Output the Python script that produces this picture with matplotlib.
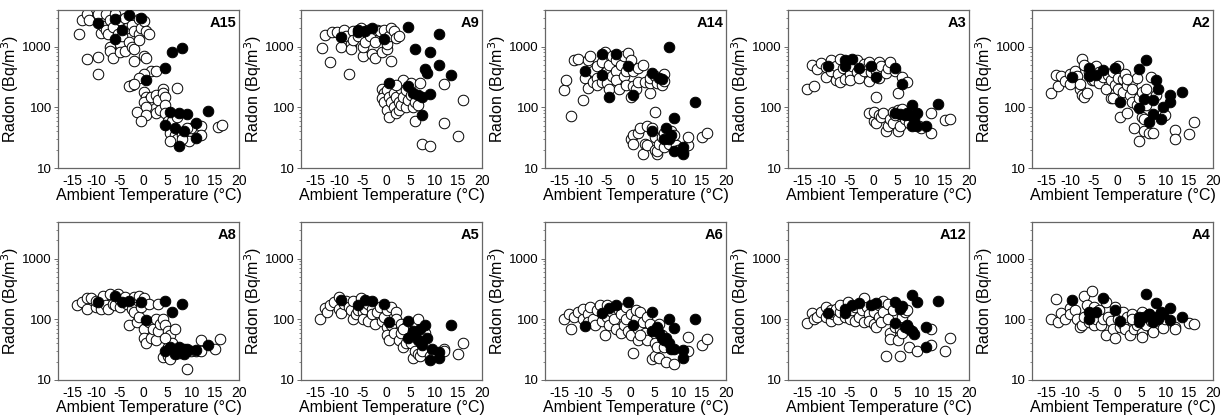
import numpy as np
import matplotlib.pyplot as plt
from matplotlib.ticker import LogLocator, NullFormatter, FixedLocator

plt.rcParams['font.family'] = ['Liberation Sans', 'DejaVu Sans']
plt.rcParams['axes.unicode_minus'] = False

# (ambient temperature degC, radon Bq/m3) -- open: all days, filled: selected days
a15_open = [(-13.5, 1600), (-13, 2700), (-12, 3500), (-11.5, 2700), (-12, 630), (-9.5, 680), (-9.5, 350),
            (-9.5, 3500), (-9, 1700), (-8.5, 2200), (-8, 3400), (-8, 1900), (-7.5, 1600), (-7, 2700),
            (-7, 1000), (-7, 850), (-6.5, 650), (-6.5, 2100), (-6, 3500), (-5.5, 1600), (-5, 1100),
            (-5, 2700), (-5, 800), (-4.5, 1500), (-4, 3000), (-4, 850), (-3.5, 2000), (-3, 1200),
            (-2.5, 2300), (-2.5, 1000), (-2, 1800), (-2, 900), (-2, 580), (-1, 2800), (-1, 1600),
            (-0.5, 2000), (0, 2600), (0.5, 1800), (1, 1600), (0, 700), (0.5, 650), (-1, 1300),
            (1.5, 400), (2.5, 400), (0, 350), (-1, 300), (-2.5, 230), (-3, 220), (-2, 240), (0, 180),
            (0.5, 150), (1, 130), (0, 120), (0.5, 100), (1.5, 150), (2.5, 160), (3, 130), (4, 200),
            (4, 170), (4.5, 150), (7, 210), (-1.5, 85), (0.5, 75), (-0.5, 60), (2.5, 80), (3.5, 90),
            (4.5, 110), (4.5, 80), (5, 60), (5.5, 45), (5.5, 38), (6, 60), (7, 70), (6.5, 35), (7, 30),
            (8, 35), (9.5, 28), (10, 45), (12, 50), (12, 35), (15.5, 47), (16.5, 52), (5.5, 28),
            (8, 30), (9, 45)]
a15_closed = [(-9.5, 2400), (-6, 2800), (-6, 1350), (-4.5, 1900), (-3, 3300), (-0.5, 2900), (0.5, 280),
              (4.5, 450), (6, 800), (8, 950), (5.5, 85), (4.5, 52), (7.5, 80), (6.5, 46), (9, 77),
              (8.5, 40), (7.5, 23), (11, 55), (11, 31), (13.5, 88)]

a9_open = [(-13.5, 950), (-13, 1550), (-12, 550), (-11.5, 1750), (-10.5, 1750), (-9.5, 1000), (-9, 1900),
           (-8.5, 1500), (-8, 350), (-7.5, 1100), (-7.5, 900), (-7, 1800), (-7, 1300), (-6, 1500),
           (-5.5, 2000), (-5, 700), (-5, 1000), (-4.5, 1200), (-4, 1900), (-3.5, 1500), (-3, 750),
           (-2.5, 1200), (-2.5, 650), (-2, 1900), (-1.5, 1800), (-1, 800), (-0.5, 1900), (0, 900),
           (0, 1100), (0.5, 1500), (1, 2000), (1.5, 1800), (2, 1400), (2.5, 1500), (1, 580),
           (-1, 200), (-0.5, 170), (-1, 140), (-0.5, 120), (0, 190), (0, 90), (0.5, 70), (0.5, 150),
           (1, 120), (1.5, 100), (1.5, 170), (2, 150), (2, 80), (2.5, 120), (2.5, 90), (3, 200),
           (3, 110), (3.5, 280), (3.5, 150), (4, 190), (4, 100), (4.5, 130), (5, 160), (5, 250),
           (5.5, 100), (6, 120), (6, 60), (6.5, 110), (7, 250), (7.5, 25), (9, 23), (12, 55),
           (12, 240), (15, 34), (16, 130), (2, 230)]
a9_closed = [(-9.5, 1450), (-6, 1900), (-6, 1750), (-4.5, 1800), (-3, 2000), (-0.5, 1350), (0.5, 250),
             (4.5, 2100), (6, 900), (4.5, 220), (9, 800), (8, 420), (8.5, 370), (11, 1600), (11, 500),
             (13.5, 340), (5.5, 170), (6.5, 160), (7.5, 145), (9, 165), (7.5, 75)]

a14_open = [(-14, 190), (-13.5, 280), (-12.5, 72), (-12, 600), (-11, 620), (-10, 130), (-9.5, 300),
            (-9, 590), (-9, 210), (-8.5, 700), (-8, 400), (-8, 260), (-7, 470), (-7, 300), (-7, 230),
            (-6, 550), (-6, 260), (-5.5, 800), (-5, 400), (-5, 250), (-4.5, 500), (-4.5, 200),
            (-4, 700), (-4, 330), (-3, 600), (-3, 400), (-3, 280), (-2.5, 200), (-2, 500), (-1.5, 700),
            (-1.5, 330), (-1, 400), (-1, 230), (-0.5, 780), (0, 600), (0, 150), (0.5, 400), (0.5, 220),
            (1, 200), (1.5, 450), (1.5, 260), (2.5, 500), (3, 260), (4, 170), (4, 250), (4, 300),
            (5, 330), (5.5, 250), (6.5, 230), (7, 350), (7, 270), (5, 85),
            (0, 30), (0.5, 35), (0.5, 25), (1.5, 37), (2, 45), (2.5, 17), (3, 25), (3.5, 50),
            (3.5, 24), (4.5, 45), (5, 20), (5, 33), (5.5, 17), (5.5, 19), (6, 25), (6.5, 32), (7, 37),
            (7, 22), (8.5, 40), (8, 25), (9.5, 24), (10, 20), (11, 18), (12, 24), (12, 32), (15, 33),
            (16, 38), (9, 35)]
a14_closed = [(-9.5, 400), (-6, 750), (-6, 340), (-4.5, 150), (-3, 750), (-0.5, 480), (0.5, 160),
              (4.5, 370), (6, 300), (6.5, 290), (8, 1000), (13.5, 120), (9, 67), (4.5, 40), (7.5, 45),
              (7, 30), (8, 30), (8.5, 35), (9, 19), (11, 22), (11, 17)]

a3_open = [(-14, 200), (-13, 500), (-12.5, 220), (-12, 430), (-11, 530), (-10, 310), (-10, 460),
           (-9, 590), (-9, 400), (-8, 280), (-8, 480), (-7.5, 350), (-7, 620), (-7, 260), (-6.5, 450),
           (-6, 290), (-5.5, 520), (-5, 350), (-5, 280), (-4.5, 480), (-3.5, 600), (-3.5, 380),
           (-3, 300), (-2, 400), (-2, 520), (-1, 550), (-1, 270), (-0.5, 380), (0.5, 400), (1, 550),
           (1, 300), (1.5, 480), (2.5, 360), (3, 450), (3.5, 550), (4.5, 400), (6, 320), (7, 260),
           (0.5, 150), (5, 170),
           (-1, 80), (0, 60), (0, 85), (0.5, 55), (1, 75), (1.5, 70), (2, 80), (2.5, 40), (3, 50),
           (3.5, 65), (4, 85), (4, 55), (5, 40), (5, 90), (5.5, 50), (6, 95), (6.5, 65), (7, 75),
           (7.5, 55), (8, 85), (9.5, 50), (10, 45), (12, 80), (12, 37), (15, 62), (16, 65), (4.5, 75)]
a3_closed = [(-9.5, 480), (-6, 600), (-6, 480), (-4.5, 620), (-3, 450), (-0.5, 470), (0.5, 320),
             (4.5, 440), (6, 240), (4.5, 82), (5.5, 77), (6.5, 75), (7, 80), (7.5, 75), (8, 110),
             (8, 50), (8.5, 65), (9, 50), (9, 80), (11, 50), (13.5, 115)]

a2_open = [(-14, 175), (-13, 340), (-12.5, 220), (-12, 330), (-11, 270), (-10, 350), (-10, 240),
           (-9, 390), (-8.5, 330), (-8, 200), (-8, 240), (-7.5, 160), (-7.5, 630), (-7, 500),
           (-7, 145), (-6.5, 170), (-6, 380), (-5.5, 280), (-5, 280), (-4.5, 480), (-4, 380),
           (-4, 250), (-3, 310), (-2.5, 200), (-2, 340), (-1.5, 280), (-1.5, 140), (-1, 140),
           (-1, 380), (-0.5, 230), (0, 470), (0, 300), (0, 200), (0.5, 70), (1, 180), (1, 290),
           (1.5, 350), (2, 80), (2, 230), (2.5, 160), (3, 120), (3, 260), (3.5, 45), (4, 110),
           (4, 300), (4.5, 140), (4.5, 28), (5, 70), (5, 180), (5.5, 65), (5.5, 40), (6, 200),
           (6, 110), (6.5, 38), (7, 320), (7.5, 38), (8, 160), (9.5, 80), (10, 75), (12, 42),
           (12, 30), (15, 36), (16, 58), (3, 200), (2, 290)]
a2_closed = [(-9.5, 310), (-6, 440), (-6, 330), (-4.5, 340), (-3, 410), (-0.5, 440), (0.5, 120),
             (4.5, 430), (6, 600), (4.5, 97), (5.5, 135), (6.5, 57), (7.5, 78), (7.5, 130), (8, 280),
             (8.5, 200), (9, 65), (9.5, 100), (11, 160), (11, 120), (13.5, 180)]

a8_open = [(-14, 170), (-13, 190), (-12, 150), (-12, 220), (-11, 220), (-10, 160), (-10, 200), (-9, 150),
           (-8.5, 240), (-8, 170), (-7.5, 150), (-7, 260), (-6.5, 180), (-6, 170), (-5.5, 260),
           (-5, 210), (-5, 160), (-4, 230), (-3.5, 180), (-3, 80), (-2.5, 150), (-2, 130), (-2, 230),
           (-1.5, 90), (-1, 110), (-1, 240), (-0.5, 160), (0, 220), (0, 70), (0, 50), (0.5, 40),
           (1, 90), (1, 180), (1.5, 50), (2, 70), (2.5, 100), (2.5, 45), (3, 65), (3, 180), (3.5, 85),
           (4, 24), (4, 100), (4.5, 80), (5, 25), (5, 65), (5, 35), (5.5, 22), (5.5, 55), (6, 40),
           (6.5, 70), (7, 28), (7.5, 28), (9, 15), (10, 30), (11, 30), (12, 45), (12, 30), (15, 32),
           (16, 47), (4.5, 50)]
a8_closed = [(-9.5, 195), (-6, 240), (-4.5, 195), (-3, 200), (-0.5, 195), (0.5, 97), (4.5, 200),
             (6, 130), (8, 180), (4.5, 30), (5.5, 35), (6.5, 27), (7.5, 35), (8.5, 27), (8.5, 32),
             (9, 33), (11, 31), (13.5, 38), (9, 30)]

a5_open = [(-14, 100), (-13, 155), (-12.5, 130), (-12, 170), (-11, 190), (-10, 230), (-10, 150),
           (-9.5, 125), (-9, 180), (-8.5, 200), (-8, 160), (-7.5, 140), (-7, 100), (-7, 200),
           (-6.5, 120), (-6, 140), (-5.5, 220), (-5, 130), (-5, 100), (-4.5, 150), (-4, 180), (-4, 95),
           (-3, 150), (-3, 120), (-2.5, 85), (-2, 130), (-1.5, 160), (-1, 95), (-0.5, 110), (0, 140),
           (0, 75), (0, 55), (0.5, 45), (1, 160), (1, 80), (1.5, 60), (2, 130), (2, 100), (2.5, 45),
           (3, 85), (3, 60), (3.5, 35), (4, 75), (4, 40), (5, 60), (5, 40), (5.5, 23), (6, 85),
           (6, 30), (6.5, 100), (6.5, 27), (7, 25), (7.5, 30), (8, 60), (9, 25), (10, 27), (12, 33),
           (12, 30), (15, 27), (16, 40), (3.5, 70)]
a5_closed = [(-9.5, 210), (-6, 170), (-4.5, 210), (-3, 200), (-0.5, 180), (0.5, 90), (4.5, 95),
             (4.5, 50), (5.5, 65), (6, 55), (6.5, 45), (7, 70), (7.5, 37), (8, 80), (8.5, 50), (9, 21),
             (9.5, 33), (11, 29), (11, 23), (13.5, 80)]

a6_open = [(-14, 100), (-13, 120), (-12.5, 70), (-12, 110), (-11, 130), (-10, 100), (-10, 150),
           (-9, 120), (-9, 90), (-8.5, 160), (-8, 100), (-7.5, 80), (-7, 140), (-6.5, 170), (-6, 95),
           (-5.5, 55), (-5, 110), (-5, 170), (-4.5, 80), (-4, 130), (-3.5, 100), (-3, 70), (-2.5, 140),
           (-2, 120), (-2, 60), (-1.5, 80), (-1, 160), (-1, 100), (-0.5, 65), (0, 120), (0, 55),
           (0.5, 28), (1, 100), (1, 140), (1.5, 70), (1.5, 45), (2, 130), (2.5, 90), (3, 60),
           (3.5, 110), (3.5, 45), (4, 85), (4.5, 22), (5, 40), (5, 25), (5.5, 35), (6, 85), (6, 23),
           (6.5, 55), (7, 35), (7.5, 20), (9, 18), (12, 52), (12, 30), (15, 38), (16, 48), (2, 55)]
a6_closed = [(-9.5, 77), (-6, 125), (-4.5, 155), (-3, 175), (-0.5, 190), (0.5, 82), (4.5, 130),
             (4.5, 65), (5.5, 75), (6, 60), (6.5, 50), (7, 45), (7.5, 50), (8, 40), (8, 100),
             (8.5, 33), (9, 72), (11, 31), (11, 23), (13.5, 100), (9, 33)]

a12_open = [(-14, 88), (-13, 125), (-12.5, 100), (-12, 110), (-11, 130), (-10, 160), (-10, 110),
            (-9, 95), (-9, 140), (-8.5, 120), (-8, 150), (-7.5, 100), (-7, 130), (-7, 170), (-6, 110),
            (-5.5, 190), (-5, 130), (-5, 100), (-4.5, 140), (-4, 160), (-4, 95), (-3, 110),
            (-2.5, 140), (-2, 220), (-2, 90), (-1.5, 160), (-1, 120), (-1, 95), (0, 130), (0, 85),
            (0.5, 75), (1, 170), (1, 110), (1.5, 90), (2, 200), (2, 130), (2.5, 25), (3, 100),
            (3, 180), (3.5, 60), (3.5, 48), (4, 140), (4.5, 75), (5, 45), (5.5, 25), (5.5, 70),
            (6, 110), (6.5, 130), (7, 140), (7.5, 35), (9, 30), (12, 70), (12, 37), (15, 30),
            (16, 50), (6, 60)]
a12_closed = [(-9.5, 125), (-6, 145), (-6, 125), (-4.5, 170), (-3, 185), (-0.5, 170), (0.5, 185),
              (4.5, 195), (4.5, 88), (5.5, 150), (6, 165), (6.5, 75), (7, 80), (7.5, 70), (8, 250),
              (8, 65), (8.5, 58), (9, 190), (11, 75), (11, 35), (13.5, 200)]

a4_open = [(-14, 100), (-13, 215), (-12.5, 90), (-12, 125), (-11, 100), (-10, 155), (-10, 120),
           (-9, 140), (-8.5, 100), (-8, 75), (-7.5, 80), (-7, 110), (-7, 240), (-6.5, 175), (-6, 90),
           (-5.5, 290), (-5, 160), (-5, 80), (-4.5, 100), (-4, 140), (-3.5, 80), (-3, 100),
           (-2.5, 190), (-2.5, 55), (-2, 110), (-1.5, 95), (-1, 70), (-0.5, 160), (-0.5, 50), (0, 100),
           (0.5, 75), (1, 130), (1, 85), (1.5, 70), (2, 110), (2.5, 55), (3, 120), (3.5, 70), (4, 95),
           (4, 80), (5, 130), (5, 60), (5, 52), (5.5, 100), (6, 80), (6.5, 120), (7, 95), (7.5, 62),
           (9, 120), (9.5, 72), (10, 100), (12, 75), (12, 68), (15, 88), (16, 85), (3, 100)]
a4_closed = [(-9.5, 210), (-6, 130), (-6, 100), (-4.5, 130), (-3, 220), (-0.5, 140), (0.5, 95),
             (4.5, 110), (4.5, 90), (5.5, 110), (6, 260), (6.5, 120), (7.5, 90), (8, 185), (8, 110),
             (8.5, 100), (9, 130), (9.5, 120), (11, 155), (11, 97), (13.5, 108)]

panels = [('A15', a15_open, a15_closed), ('A9', a9_open, a9_closed), ('A14', a14_open, a14_closed),
          ('A3', a3_open, a3_closed), ('A2', a2_open, a2_closed), ('A8', a8_open, a8_closed),
          ('A5', a5_open, a5_closed), ('A6', a6_open, a6_closed), ('A12', a12_open, a12_closed),
          ('A4', a4_open, a4_closed)]

x_ticks = [-15, -10, -5, 0, 5, 10, 15, 20]
y_ticks = [10, 100, 1000]

W, H = 1228, 415
fig = plt.figure(figsize=(W / 100, H / 100), dpi=100)

col_left = [58, 301, 545, 788, 1032]
row_top = [10, 222]
box_w, box_h = 181, 158

for i, (name, op, cl) in enumerate(panels):
    r, c = divmod(i, 5)
    x0 = col_left[c] / W
    y0 = 1 - (row_top[r] + box_h) / H
    ax = fig.add_axes([x0, y0, box_w / W, box_h / H])

    op = np.array(op)
    cl = np.array(cl)
    ax.scatter(op[:, 0], op[:, 1], s=58, facecolors='white', edgecolors='black',
               linewidths=0.7, zorder=2)
    ax.scatter(cl[:, 0], cl[:, 1], s=58, facecolors='black', edgecolors='black',
               linewidths=0.7, zorder=3)

    ax.set_yscale('log')
    ax.set_xlim(-18, 20)
    ax.set_ylim(10, 4000)
    ax.xaxis.set_major_locator(FixedLocator(x_ticks))
    ax.yaxis.set_major_locator(FixedLocator(y_ticks))
    ax.yaxis.set_minor_locator(LogLocator(base=10, subs=np.arange(2, 10)))
    ax.yaxis.set_minor_formatter(NullFormatter())
    ax.set_yticklabels([str(v) for v in y_ticks])
    ax.tick_params(axis='x', length=0, pad=4, labelsize=10)
    ax.tick_params(axis='y', which='major', length=3, width=0.6, color='#555555',
                   pad=1.5, labelsize=9.5)
    ax.tick_params(axis='y', which='minor', length=1.8, width=0.5, color='#555555')
    for sp in ax.spines.values():
        sp.set_color('#666666')
        sp.set_linewidth(0.9)

    ax.set_xlabel('Ambient Temperature (°C)', fontsize=11.5, labelpad=0)
    ax.set_ylabel('Radon (Bq/m$^3$)', fontsize=11.5, labelpad=1)
    ax.text(0.985, 0.965, name, transform=ax.transAxes, ha='right', va='top',
            fontsize=10.5, fontweight='bold')

fig.savefig('out.png', dpi=100)
